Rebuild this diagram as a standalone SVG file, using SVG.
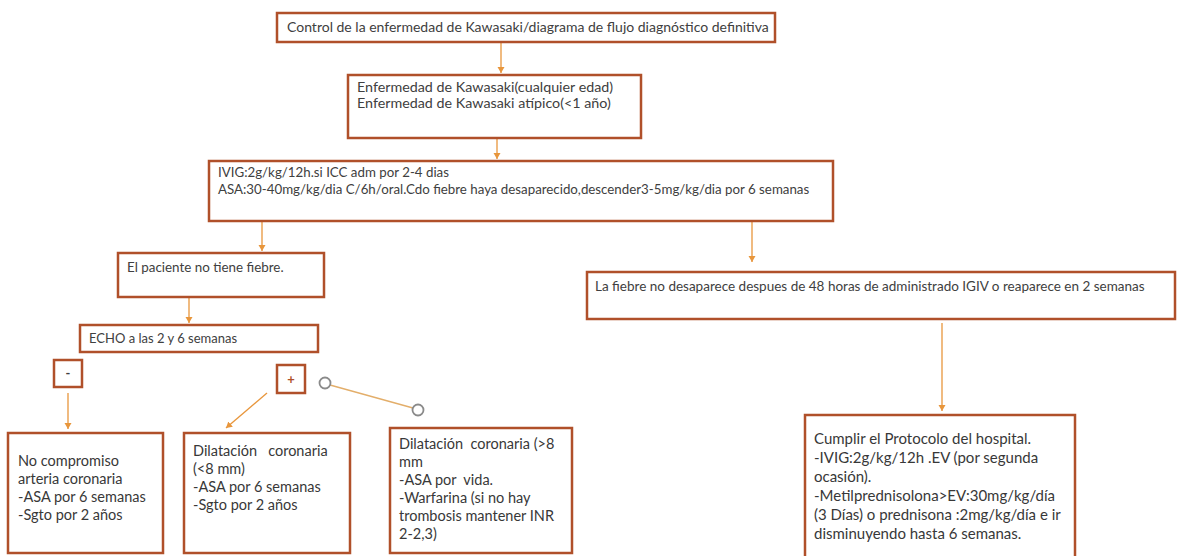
<svg xmlns="http://www.w3.org/2000/svg" width="1180" height="556" viewBox="0 0 1180 556">
<defs>
<style>
.box{fill:#fff;stroke:#B0502A;stroke-width:2.5}
.t{font-family:Lato,"Open Sans","Liberation Sans",sans-serif;fill:#404040}
.s{font-size:13.4px}
.b{font-size:14.5px;fill:#383838}
.c{stroke:#E8963C;stroke-width:1.3;fill:none}
.ln{stroke:#E3AE6A;stroke-width:1.3;fill:none}
.circ{fill:#fff;stroke:#8A8A8A;stroke-width:1.8}
</style>
<marker id="ah" markerWidth="8" markerHeight="8" refX="6" refY="4" orient="auto" markerUnits="userSpaceOnUse">
<path d="M0,0.5 L6,4 L0,7.5 Z" fill="#E8963C"/>
</marker>
</defs>
<rect width="1180" height="556" fill="#fff"/>
<g id="connectors">
<line class="c" x1="501" y1="42" x2="501" y2="73" marker-end="url(#ah)"/>
<line class="c" x1="497" y1="138" x2="497" y2="159" marker-end="url(#ah)"/>
<line class="c" x1="262" y1="221" x2="262" y2="251" marker-end="url(#ah)"/>
<line class="c" x1="752" y1="221" x2="752" y2="262" marker-end="url(#ah)"/>
<line class="c" x1="189" y1="297" x2="189" y2="323" marker-end="url(#ah)"/>
<line class="c" x1="68" y1="393" x2="68" y2="429" marker-end="url(#ah)"/>
<line class="c" x1="267" y1="393" x2="226" y2="428" marker-end="url(#ah)"/>
<line class="c" x1="942" y1="323" x2="942" y2="411" marker-end="url(#ah)"/>
<line class="ln" x1="330" y1="385" x2="413" y2="408"/>
<circle class="circ" cx="325" cy="383" r="5.5"/>
<circle class="circ" cx="418" cy="410" r="5.5"/>
</g>
<g id="n-title">
<rect class="box" x="277" y="13" width="498" height="29"/>
<text class="t" x="287" y="32" font-size="14">Control de la enfermedad de Kawasaki/diagrama de flujo diagnóstico definitiva</text>
</g>
<g id="n-kawasaki">
<rect class="box" x="348" y="75" width="293" height="63"/>
<text class="t" x="357" y="92" font-size="14.3">Enfermedad de Kawasaki(cualquier edad)</text>
<text class="t" x="357" y="108" font-size="14.3">Enfermedad de Kawasaki atípico(&lt;1 año)</text>
</g>
<g id="n-ivig">
<rect class="box" x="209" y="161" width="624" height="60"/>
<text class="t" x="218" y="177" font-size="13.3">IVIG:2g/kg/12h.si ICC adm por 2-4 dias</text>
<text class="t" x="218" y="194" font-size="13.3">ASA:30-40mg/kg/dia C/6h/oral.Cdo fiebre haya desaparecido,descender3-5mg/kg/dia por 6 semanas</text>
</g>
<g id="n-nofiebre">
<rect class="box" x="118" y="253" width="206" height="44"/>
<text class="t s" x="127" y="272">El paciente no tiene fiebre.</text>
</g>
<g id="n-echo">
<rect class="box" x="80" y="325" width="238" height="27"/>
<text class="t" x="89" y="343" font-size="13">ECHO a las 2 y 6 semanas</text>
</g>
<g id="n-minus">
<rect class="box" x="54" y="360" width="28" height="27"/>
<text class="t" x="68" y="378" font-size="13" font-weight="bold" text-anchor="middle">-</text>
</g>
<g id="n-plus">
<rect class="box" x="277" y="365" width="28" height="28"/>
<text class="t" x="291" y="384" font-size="13" font-weight="bold" text-anchor="middle" style="fill:#B0502A">+</text>
</g>
<g id="n-fiebre">
<rect class="box" x="587" y="272" width="588" height="47"/>
<text class="t" x="595" y="291" font-size="13.5">La fiebre no desaparece despues de 48 horas de administrado IGIV o reaparece en 2 semanas</text>
</g>
<g id="n-nocomp">
<rect class="box" x="8" y="433" width="155" height="120"/>
<text class="t b" x="18" y="466">No compromiso</text>
<text class="t b" x="18" y="484">arteria coronaria</text>
<text class="t b" x="18" y="502">-ASA por 6 semanas</text>
<text class="t b" x="18" y="520">-Sgto por 2 años</text>
</g>
<g id="n-dil8">
<rect class="box" x="184" y="433" width="166" height="120"/>
<text class="t b" x="193" y="456" xml:space="preserve">Dilatación   coronaria</text>
<text class="t b" x="193" y="474">(&lt;8 mm)</text>
<text class="t b" x="193" y="492">-ASA por 6 semanas</text>
<text class="t b" x="193" y="510">-Sgto por 2 años</text>
</g>
<g id="n-dilg8">
<rect class="box" x="390" y="428" width="182" height="125"/>
<text class="t b" x="399" y="449" xml:space="preserve">Dilatación  coronaria (&gt;8</text>
<text class="t b" x="399" y="467">mm</text>
<text class="t b" x="399" y="485" xml:space="preserve">-ASA por  vida.</text>
<text class="t b" x="399" y="503">-Warfarina (si no hay</text>
<text class="t b" x="399" y="521">trombosis mantener INR</text>
<text class="t b" x="399" y="539">2-2,3)</text>
</g>
<g id="n-protocolo">
<rect class="box" x="805" y="415" width="270" height="150"/>
<text class="t b" x="814" y="444" font-size="15" style="font-size:15px">Cumplir el Protocolo del hospital.</text>
<text class="t b" x="814" y="463" style="font-size:15px">-IVIG:2g/kg/12h .EV (por segunda</text>
<text class="t b" x="814" y="482" style="font-size:15px">ocasión).</text>
<text class="t b" x="814" y="501" style="font-size:15px">-Metilprednisolona&gt;EV:30mg/kg/día</text>
<text class="t b" x="814" y="520" style="font-size:15px">(3 Días) o prednisona :2mg/kg/día e ir</text>
<text class="t b" x="814" y="539" style="font-size:15px">disminuyendo hasta 6 semanas.</text>
</g>
</svg>
